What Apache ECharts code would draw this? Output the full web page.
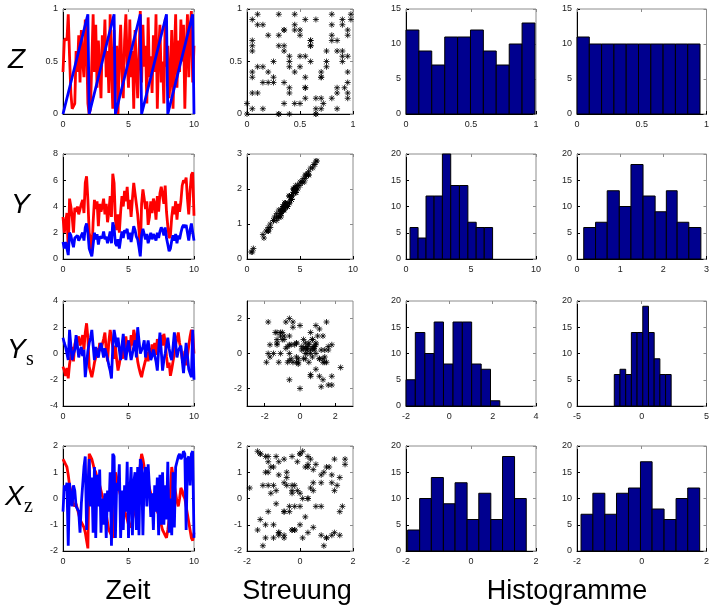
<!DOCTYPE html>
<html><head><meta charset="utf-8">
<script src="https://cdn.jsdelivr.net/npm/echarts@6/dist/echarts.min.js"></script>
<style>html,body{margin:0;padding:0;background:#fff}#c{width:712px;height:606px}</style>
</head><body><div id="c"></div><script>
// ---------- time series (t = 0 .. 10, step 0.1) ----------
const zRed = [
0.4,0.7,0.72,0.7,0.95,0.55,0.2,0.05,0.05,0.1,
0.6,0.4,0.75,0.3,0.8,0.5,0.35,0.9,0.65,0.1,
0.0,0.05,0.5,0.95,0.4,0.85,0.25,0.7,0.45,0.15,
0.75,0.55,0.9,0.35,0.6,0.2,0.95,0.45,0.05,0.8,
0.3,0.65,0.0,0.55,0.85,0.4,0.15,0.7,0.95,0.5,
0.25,0.9,0.35,0.6,0.05,0.8,0.45,0.15,0.55,0.98,
0.3,0.85,0.45,0.65,0.1,0.92,0.35,0.55,0.2,0.75,
0.4,0.95,0.05,0.6,0.85,0.3,0.5,0.1,0.9,0.45,
0.65,0.15,0.35,0.8,0.05,0.55,0.95,0.25,0.7,0.4,
0.9,0.5,0.85,0.05,0.6,0.95,0.35,0.8,0.98,0.3,
0.65];
const zBlue = [
0,0.05,0.1,0.15,0.2,0.25,0.3,0.35,0.4,0.45,0.5,0.55,0.6,0.65,0.7,0.75,0.8,0.85,0.9,0.95,
0,0.05,0.1,0.15,0.2,0.25,0.3,0.35,0.4,0.45,0.5,0.55,0.6,0.65,0.7,0.75,0.8,0.85,0.9,0.95,
0,0.05,0.1,0.15,0.2,0.25,0.3,0.35,0.4,0.45,0.5,0.55,0.6,0.65,0.7,0.75,0.8,0.85,0.9,0.95,
0,0.05,0.1,0.15,0.2,0.25,0.3,0.35,0.4,0.45,0.5,0.55,0.6,0.65,0.7,0.75,0.8,0.85,0.9,0.95,
0,0.05,0.1,0.15,0.2,0.25,0.3,0.35,0.4,0.45,0.5,0.55,0.6,0.65,0.7,0.75,0.8,0.85,0.9,0.95,
0];
const yRed = [
3.2,2.0,2.8,3.5,0.6,4.6,4.0,3.2,2.0,3.9,
3.6,4.0,3.4,3.8,4.2,4.5,3.5,5.8,6.3,4.5,
2.0,1.5,0.4,2.8,4.5,3.8,4.4,2.5,4.2,3.6,
4.0,4.6,3.4,4.2,2.8,3.6,4.8,3.2,6.5,5.8,
3.0,2.2,3.4,2.0,3.6,4.8,4.0,5.2,4.4,5.5,
3.8,4.5,3.2,4.6,5.8,5.0,4.2,3.4,2.2,0.5,
4.2,5.3,4.6,3.8,4.4,2.6,3.2,4.4,3.5,4.6,
4.2,3.0,4.8,3.6,5.0,5.5,5.4,4.2,5.6,3.6,
2.5,1.6,1.8,3.2,4.0,3.4,4.4,3.0,4.2,3.6,
4.4,5.6,6.0,5.8,6.2,4.6,3.4,5.2,6.4,6.6,
3.3];
const yBlue = [
1.3,0.8,1.3,1.4,0.3,2.0,1.8,1.3,0.9,1.6,
1.5,1.8,1.4,1.5,1.8,2.0,1.4,2.4,2.7,2.0,
0.8,0.7,0.2,1.1,2.0,1.5,1.9,1.1,1.7,1.6,
1.6,2.1,1.5,1.7,1.2,1.6,2.1,1.2,2.8,2.4,
1.2,1.0,1.5,0.8,1.5,2.1,1.6,2.2,2.0,2.3,
1.5,2.0,1.3,1.9,2.5,2.2,1.7,1.5,0.9,0.2,
1.8,2.3,1.9,1.5,1.9,1.2,1.3,2.0,1.5,1.9,
1.7,1.4,2.0,1.6,2.1,2.4,2.2,1.8,2.4,1.6,
1.1,0.6,0.8,1.4,1.8,1.4,1.9,1.2,1.8,1.5,
2.0,2.4,2.6,2.4,2.6,2.0,1.4,2.2,2.7,2.8,
1.4];
const ysRed = [
-1.0,-1.3,-1.7,-1.1,-1.9,-0.8,-0.2,0.5,-0.6,0.7,
1.1,0.9,1.3,0.6,0.9,1.4,0.3,1.6,2.3,1.2,
-1.0,-1.4,-1.8,-1.3,-0.7,-0.3,0.4,-0.1,0.8,0.2,
0.7,1.1,1.6,0.3,-0.6,0.9,1.8,1.2,0.5,-0.4,
0.6,-0.5,-1.3,-0.8,-0.1,0.5,-0.4,0.8,1.3,0.4,
1.0,0.1,1.4,0.6,1.8,1.3,0.3,-0.6,-1.1,-1.5,
-1.8,-1.3,-0.9,-0.5,0.1,-0.6,0.4,-0.2,0.7,0.2,
0.8,-0.1,1.1,0.4,0.9,1.4,0.6,1.5,0.9,-0.2,
-1.1,-0.7,-1.7,-1.2,-0.6,0.0,0.7,1.1,1.6,0.8,
0.3,-0.4,-0.6,0.2,-0.9,-0.2,0.6,1.3,1.8,1.5,
0.0];
const ysBlue = [
1.2,0.8,0.5,0.0,-0.5,1.8,0.6,-0.5,0.0,0.3,
1.4,0.6,-0.3,0.2,0.5,-0.2,0.3,-1.8,-0.8,0.2,
0.8,1.2,1.8,0.6,-0.5,0.5,0.0,-0.3,0.4,0.8,
0.8,-0.3,0.4,0.0,-0.4,-0.9,-1.3,-1.9,0.5,1.8,
1.2,0.5,1.2,0.3,-0.5,0.6,1.5,0.2,-0.5,0.4,
1.0,0.2,-0.5,0.0,0.5,1.0,-0.3,2.0,1.0,0.0,
0.0,0.5,1.0,-0.3,0.4,1.0,0.2,-0.5,-0.2,0.3,
0.3,-0.6,-1.3,0.3,1.6,0.2,-1.3,-0.5,0.0,0.6,
1.2,0.4,-0.2,-0.5,0.5,1.6,0.8,-0.3,0.2,0.4,
0.6,-0.5,-1.5,-0.3,0.8,-0.2,-1.2,-1.5,-1.8,1.8,
-2.0];
const xzRed = [
1.5,1.4,1.3,1.2,0.9,0.5,0.3,0.0,-0.2,-0.3,
-0.2,-0.4,-0.6,-0.8,-0.9,-1.0,-1.1,-1.3,-1.6,-1.9,
1.7,1.6,1.5,1.3,1.1,1.0,0.8,0.6,0.5,0.3,
0.1,0.0,-0.3,-0.6,-0.9,-1.2,-1.3,-1.4,-1.5,-1.2,
1.0,0.8,0.5,0.3,0.1,-0.1,-0.3,-0.5,-0.6,-0.8,
-1.0,-1.1,-1.0,-0.8,-0.6,-0.5,-0.2,0.3,0.8,1.3,
1.7,1.5,1.2,1.0,0.8,0.6,0.4,0.2,0.0,-0.2,
-0.3,-0.4,-0.5,-0.6,-0.8,-1.0,-1.2,-1.3,-1.4,-1.5,
-1.2,-0.8,0.3,1.2,0.9,0.5,0.2,-0.1,-0.3,0.0,
0.4,0.3,0.1,0.0,-0.3,-0.6,-0.9,-1.2,-1.5,-1.6,
-1.3];
const xzBlue = [
-0.5,0.5,0.3,0.6,-1.8,0.6,0.0,-0.3,0.5,0.3,
-0.3,-0.3,-0.5,-1.3,-0.2,0.5,1.2,1.6,-1.2,0.4,
1.5,-0.3,0.8,-1.3,1.2,-1.5,0.9,-0.3,1.1,-1.3,
0.0,-1.0,0.2,-1.5,0.3,-0.5,1.0,-1.8,1.7,1.6,
-1.5,0.6,0.3,1.3,-1.5,0.3,-1.2,0.5,-0.5,1.4,
-1.5,0.2,1.2,-1.4,0.6,1.0,-1.2,1.2,-1.4,1.5,
1.3,-1.4,0.9,1.2,-0.3,1.3,0.4,-0.7,0.2,-1.2,
0.5,-0.5,0.8,-1.4,0.9,-1.0,1.0,-1.0,0.5,-0.8,
1.4,-1.3,0.0,-1.4,1.0,-1.1,1.2,1.4,1.6,1.7,
1.5,1.6,1.8,1.7,-1.2,1.5,1.6,0.5,1.7,1.8,
-1.5];

// ---------- histograms (bin edges and counts) ----------
const zRedEdges   = [0,0.099,0.198,0.298,0.397,0.496,0.595,0.694,0.794,0.893,0.992];
const zRedCounts  = [12,9,7,11,11,12,9,7,10,13];
const zBlueEdges  = [0,0.095,0.19,0.285,0.38,0.475,0.57,0.665,0.76,0.855,0.95];
const zBlueCounts = [11,10,10,10,10,10,10,10,10,10];
const yRedEdges   = [0.31,0.93,1.54,2.16,2.8,3.44,4.11,4.76,5.4,6.02,6.66];
const yRedCounts  = [6,4,12,12,20,14,14,7,6,6];
const yBlueEdges  = [0.156,0.43,0.70,0.98,1.25,1.53,1.81,2.07,2.32,2.59,2.87];
const yBlueCounts = [6,7,13,10,18,12,9,13,7,6];
const ysRedEdges  = [-2.0,-1.57,-1.13,-0.70,-0.27,0.17,0.60,1.03,1.47,1.90,2.33];
const ysRedCounts = [5,14,10,16,8,16,16,8,7,1];
const ysBlueEdges = [-2.12,-1.68,-1.24,-0.80,-0.36,0.08,0.52,0.96,1.40,1.84,2.27];
const ysBlueCounts= [6,7,6,14,14,19,14,9,6,6];
const xzRedEdges  = [-1.95,-1.58,-1.22,-0.85,-0.49,-0.12,0.24,0.61,0.97,1.34,1.70];
const xzRedCounts = [4,10,14,9,13,6,11,6,18,10];
const xzBlueEdges = [-1.875,-1.51,-1.14,-0.78,-0.41,-0.04,0.32,0.69,1.06,1.42,1.79];
const xzBlueCounts= [7,11,7,11,12,17,8,6,10,12];

// ---------- axis ranges / tick labels ----------
const timeRange = [0,10],   timeTicks = [0,5,10];
const zRange = [0,1],       zTicks = [0,0.5,1];
const yTimeRange = [0,8],   yTimeTicks = [0,2,4,6,8];
const ysTimeRange = [-4,4], ysTimeTicks = [-4,-2,0,2,4];
const xzRange = [-2,2],     xzTicks = [-2,-1,0,1,2];
const yScatXRange = [0,10], yScatXTicks = [0,5,10];
const yScatYRange = [0,3],  yScatYTicks = [0,1,2,3];
const ysScatRange = [-3,3], ysScatTicks = [-2,0,2];
const xzScatXTicks = [-2,0,2];
const histZY = [0,15],  histZYTicks = [0,5,10,15];
const histY = [0,20],   histYTicks = [0,5,10,15,20];
const hYRedX = [0,10],  hYRedXTicks = [0,5,10];
const hYBlueX = [0,3],  hYBlueXTicks = [0,1,2,3];
const hYsRedX = [-2,4], hYsRedXTicks = [-2,0,2,4];
const hYsBlueX = [-5,5],hYsBlueXTicks = [-5,0,5];
const hXzX = [-2,2],    hXzXTicks = [-2,0,2];

const rowLabels = ['Z','Y','Y','X'];
const rowSubs = ['', '', 's', 'z'];
const colTitles = ['Zeit','Streuung','Histogramme'];

// ---------- layout ----------
const colLeft = [63,247,406,577], colWidth = [131,106,130,130];
const rowTop = [9,154,301,446], rowH = 105;

const grids=[], xAxes=[], yAxes=[], series=[];
const LBL = {fontSize:9, color:'#222', fontFamily:'Liberation Sans'};

function addPanel(row,col,xr,xt,yr,yt){
  const gi = grids.length;
  grids.push({left:colLeft[col], top:rowTop[row], width:colWidth[col], height:rowH,
    show:true, borderColor:'#8c8c8c', borderWidth:1, backgroundColor:'#fff'});
  const xi = xAxes.length, yi = yAxes.length;
  const xb = {gridIndex:gi, type:'value', min:xr[0], max:xr[1], splitLine:{show:false}};
  const yb = {gridIndex:gi, type:'value', min:yr[0], max:yr[1], splitLine:{show:false}};
  xAxes.push(Object.assign({}, xb, {position:'bottom',
    axisLine:{show:true,onZero:false,lineStyle:{color:'#000',width:1}},
    axisTick:{show:true,inside:true,length:3,customValues:xt,lineStyle:{color:'#000'}},
    axisLabel:Object.assign({customValues:xt,margin:6},LBL)}));
  xAxes.push(Object.assign({}, xb, {position:'top',
    axisLine:{show:false,onZero:false},
    axisTick:{show:true,inside:true,length:3,customValues:xt,lineStyle:{color:'#8c8c8c'}},
    axisLabel:{show:false}}));
  yAxes.push(Object.assign({}, yb, {position:'left',
    axisLine:{show:true,onZero:false,lineStyle:{color:'#000',width:1}},
    axisTick:{show:true,inside:true,length:3,customValues:yt,lineStyle:{color:'#000'}},
    axisLabel:Object.assign({customValues:yt,margin:5},LBL)}));
  yAxes.push(Object.assign({}, yb, {position:'right',
    axisLine:{show:false,onZero:false},
    axisTick:{show:true,inside:true,length:3,customValues:yt,lineStyle:{color:'#8c8c8c'}},
    axisLabel:{show:false}}));
  return {x:xi, y:yi};
}

function addTime(row, red, blue, yr, yt){
  const a = addPanel(row,0,timeRange,timeTicks,yr,yt);
  [[red,'#ff0000'],[blue,'#0000ff']].forEach(([arr,c],k)=>{
    series.push({type:'line', xAxisIndex:a.x, yAxisIndex:a.y, symbol:'none', z:2+k,
      lineStyle:{color:c,width:2.8}, data:arr.map((v,i)=>[i/10,v]), animation:false});
  });
}
function addScatter(row, red, blue, xr, xt, yr, yt){
  const a = addPanel(row,1,xr,xt,yr,yt);
  series.push({type:'scatter', xAxisIndex:a.x, yAxisIndex:a.y,
    symbol:'path://M0,-5L0,5M-5,0L5,0M-3.6,-3.6L3.6,3.6M-3.6,3.6L3.6,-3.6', symbolSize:6,
    itemStyle:{color:'rgba(0,0,0,0)', borderColor:'#000', borderWidth:1},
    data:red.map((v,i)=>[v,blue[i]]), animation:false});
}
function addHist(row, col, edges, counts, xr, xt, yr, yt){
  const a = addPanel(row,col,xr,xt,yr,yt);
  series.push({type:'custom', xAxisIndex:a.x, yAxisIndex:a.y, animation:false,
    data:counts.map((c,i)=>[edges[i],edges[i+1],c]),
    encode:{x:[0,1],y:2},
    renderItem:(params,api)=>{
      const p0 = api.coord([api.value(0),0]);
      const p1 = api.coord([api.value(1),api.value(2)]);
      return {type:'rect', shape:{x:p0[0],y:p1[1],width:p1[0]-p0[0],height:p0[1]-p1[1]},
        style:{fill:'#00008f',stroke:'#000',lineWidth:1}};
    }});
}

addTime(0, zRed, zBlue, zRange, zTicks);
addScatter(0, zRed, zBlue, zRange, zTicks, zRange, zTicks);
addHist(0,2, zRedEdges, zRedCounts, zRange, zTicks, histZY, histZYTicks);
addHist(0,3, zBlueEdges, zBlueCounts, zRange, zTicks, histZY, histZYTicks);

addTime(1, yRed, yBlue, yTimeRange, yTimeTicks);
addScatter(1, yRed, yBlue, yScatXRange, yScatXTicks, yScatYRange, yScatYTicks);
addHist(1,2, yRedEdges, yRedCounts, hYRedX, hYRedXTicks, histY, histYTicks);
addHist(1,3, yBlueEdges, yBlueCounts, hYBlueX, hYBlueXTicks, histY, histYTicks);

addTime(2, ysRed, ysBlue, ysTimeRange, ysTimeTicks);
addScatter(2, ysRed, ysBlue, ysScatRange, ysScatTicks, ysScatRange, ysScatTicks);
addHist(2,2, ysRedEdges, ysRedCounts, hYsRedX, hYsRedXTicks, histY, histYTicks);
addHist(2,3, ysBlueEdges, ysBlueCounts, hYsBlueX, hYsBlueXTicks, histY, histYTicks);

addTime(3, xzRed, xzBlue, xzRange, xzTicks);
addScatter(3, xzRed, xzBlue, xzRange, xzScatXTicks, xzRange, xzTicks);
addHist(3,2, xzRedEdges, xzRedCounts, hXzX, hXzXTicks, histY, histYTicks);
addHist(3,3, xzBlueEdges, xzBlueCounts, hXzX, hXzXTicks, histY, histYTicks);

// ---------- text ----------
const graphic = [];
const rowMidY = [62, 207, 352, 499];
const rowLabX = [8, 11, 7, 5];
rowLabels.forEach((t,i)=>{
  graphic.push({type:'text', left:rowLabX[i], top:rowMidY[i]-16,
    style:{text:t, font:'italic 28px "Liberation Sans"', fill:'#000'}});
  if (rowSubs[i]) graphic.push({type:'text', left:rowLabX[i]+19, top:rowMidY[i]-2,
    style:{text:rowSubs[i], font:'20px "Liberation Serif"', fill:'#000'}});
});
const titleX = [128, 297, 567];
colTitles.forEach((t,i)=>{
  graphic.push({type:'text', x:titleX[i], y:592,
    style:{text:t, font:'27px "Liberation Sans"', fill:'#000', textAlign:'center', textVerticalAlign:'middle'}});
});

const chart = echarts.init(document.getElementById('c'), null, {renderer:'canvas'});
chart.setOption({animation:false, grid:grids, xAxis:xAxes, yAxis:yAxes, series:series, graphic:graphic});
</script></body></html>
